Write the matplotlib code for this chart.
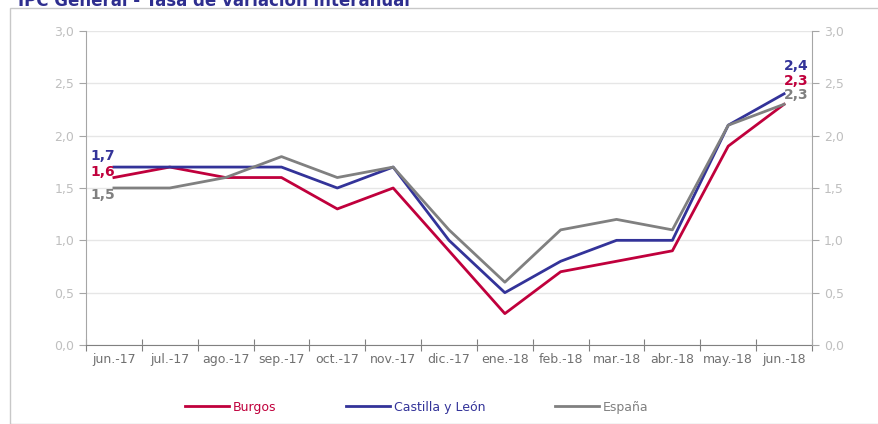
import numpy as np
import matplotlib
matplotlib.use("Agg")
import matplotlib.pyplot as plt
from matplotlib.patches import Rectangle
from matplotlib.ticker import FuncFormatter

meses = ["jun.-17", "jul.-17", "ago.-17", "sep.-17", "oct.-17", "nov.-17", "dic.-17",
         "ene.-18", "feb.-18", "mar.-18", "abr.-18", "may.-18", "jun.-18"]
burgos = [1.6, 1.7, 1.6, 1.6, 1.3, 1.5, 0.9, 0.3, 0.7, 0.8, 0.9, 1.9, 2.3]
castilla = [1.7, 1.7, 1.7, 1.7, 1.5, 1.7, 1.0, 0.5, 0.8, 1.0, 1.0, 2.1, 2.4]
espana = [1.5, 1.5, 1.6, 1.8, 1.6, 1.7, 1.1, 0.6, 1.1, 1.2, 1.1, 2.1, 2.3]

c_burgos = "#c0003c"
c_cyl = "#333399"
c_esp = "#808080"
grey_txt = "#bfbfbf"

fig = plt.figure(figsize=(8.79, 4.24), dpi=100)

# marco exterior
fig.patches.append(Rectangle((10 / 879, 0), 1, 1 - 8 / 424, transform=fig.transFigure,
                             fill=False, edgecolor="#c8c8c8", linewidth=1))
# titulo (cortado arriba como en el original)
fig.text(18 / 879, 1 - 6 / 424, "IPC General - Tasa de variación interanual",
         color="#2e2e8f", fontsize=12, fontweight="bold", va="baseline")

ax = fig.add_axes([86 / 879, 1 - 345 / 424, 726 / 879, 314 / 424])
x = np.arange(len(meses))

ax.plot(x, burgos, color=c_burgos, lw=2, label="Burgos")
ax.plot(x, castilla, color=c_cyl, lw=2, label="Castilla y León")
ax.plot(x, espana, color=c_esp, lw=2, label="España")

ax.set_xlim(-0.5, len(meses) - 0.5)
ax.set_ylim(0, 3.0)
yt = np.arange(0, 3.01, 0.5)
fmt = FuncFormatter(lambda v, p: f"{v:.1f}".replace(".", ","))
ax.set_yticks(yt)
ax.yaxis.set_major_formatter(fmt)
ax.grid(axis="y", color="#e6e6e6", lw=1)
ax.set_axisbelow(True)

ax.set_xticks(np.arange(-0.5, len(meses), 1))
ax.set_xticklabels([])
ax.set_xticks(x, minor=True)
ax.set_xticklabels(meses, minor=True)
ax.tick_params(axis="x", which="major", direction="inout", length=8, color="#808080")
ax.tick_params(axis="x", which="minor", length=0, labelsize=9, labelcolor="#707070", pad=6)
ax.tick_params(axis="y", direction="out", length=5, color="#a6a6a6",
               labelsize=9, labelcolor=grey_txt)

for s in ["top", "right"]:
    ax.spines[s].set_visible(False)
ax.spines["left"].set_color("#a6a6a6")
ax.spines["bottom"].set_color("#808080")

ax2 = ax.twinx()
ax2.set_ylim(ax.get_ylim())
ax2.set_yticks(yt)
ax2.yaxis.set_major_formatter(fmt)
ax2.tick_params(axis="y", direction="out", length=5, color="#a6a6a6",
                labelsize=9, labelcolor=grey_txt)
for s in ["top", "left", "bottom"]:
    ax2.spines[s].set_visible(False)
ax2.spines["right"].set_color("#a6a6a6")

# etiquetas de datos
lab = lambda v: f"{v:.1f}".replace(".", ",")
ax.annotate(lab(castilla[0]), (0, castilla[0]), xytext=(-8, 8), textcoords="offset points",
            ha="center", va="center", color=c_cyl, fontsize=10, fontweight="bold")
ax.annotate(lab(burgos[0]), (0, burgos[0]), xytext=(-8, 4), textcoords="offset points",
            ha="center", va="center", color=c_burgos, fontsize=10, fontweight="bold")
ax.annotate(lab(espana[0]), (0, espana[0]), xytext=(-8, -5), textcoords="offset points",
            ha="center", va="center", color=c_esp, fontsize=10, fontweight="bold")
n = len(meses) - 1
ax.annotate(lab(castilla[n]), (n, castilla[n]), xytext=(9, 20), textcoords="offset points",
            ha="center", va="center", color=c_cyl, fontsize=10, fontweight="bold")
ax.annotate(lab(burgos[n]), (n, burgos[n]), xytext=(9, 17), textcoords="offset points",
            ha="center", va="center", color=c_burgos, fontsize=10, fontweight="bold")
ax.annotate(lab(espana[n]), (n, espana[n]), xytext=(9, 7), textcoords="offset points",
            ha="center", va="center", color=c_esp, fontsize=10, fontweight="bold")

leg = fig.legend(loc="center", bbox_to_anchor=(0.474, 1 - 407 / 424), ncol=3, frameon=False,
                 fontsize=9, handlelength=3.5, handletextpad=0.3, columnspacing=5.6,
                 labelcolor="linecolor")

fig.savefig("out.png", dpi=100)
